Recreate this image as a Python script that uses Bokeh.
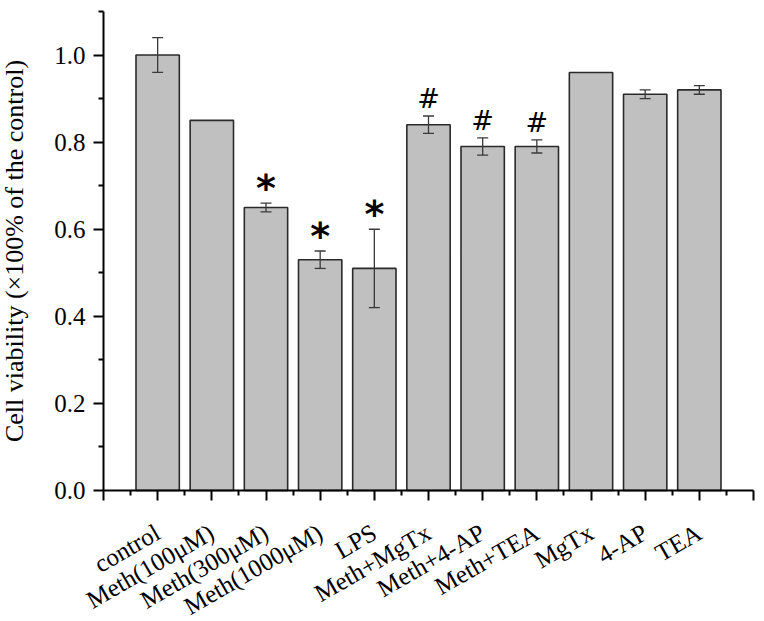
import math
from bokeh.plotting import figure
from bokeh.models import (ColumnDataSource, Range1d, FixedTicker, PrintfTickFormatter,
                          Whisker, TeeHead, LinearAxis)
from bokeh.core.properties import value
from bokeh.embed import file_html
from bokeh.resources import INLINE

categories = ["control", "Meth(100\u03bcM)", "Meth(300\u03bcM)", "Meth(1000\u03bcM)", "LPS",
              "Meth+MgTx", "Meth+4-AP", "Meth+TEA", "MgTx", "4-AP", "TEA"]
viability = [1.00, 0.85, 0.65, 0.53, 0.51, 0.84, 0.79, 0.79, 0.96, 0.91, 0.92]
errors = [0.04, 0.0, 0.01, 0.02, 0.09, 0.02, 0.02, 0.015, 0.0, 0.01, 0.01]
marks = ["", "", "*", "*", "*", "#", "#", "#", "", "", ""]

# layout constants (pixels); the frame fills the whole canvas and the axes
# are pinned at x = 0 and y = 0 so rotated labels are never clipped
W, H = 764, 621
AXIS_X, AXIS_RIGHT = 103, 753     # pixel columns of x = 0 and x = 12
AXIS_Y, AXIS_TOP = 490, 11        # pixel rows of y = 0 and y = 1.1
N_SLOTS = len(categories) + 1
Y_TOP = 1.1
PX_X = (AXIS_RIGHT - AXIS_X) / N_SLOTS
PX_Y = (AXIS_Y - AXIS_TOP) / Y_TOP
X_LO, X_HI = -AXIS_X / PX_X, N_SLOTS + (W - AXIS_RIGHT) / PX_X
Y_LO, Y_HI = -(H - AXIS_Y) / PX_Y, Y_TOP + AXIS_TOP / PX_Y
LABEL_OFFSET_PX = 40

xs = list(range(1, len(categories) + 1))
src = ColumnDataSource(dict(x=xs, top=viability))

p = figure(width=W, height=H, output_backend="svg", toolbar_location=None,
           x_range=Range1d(X_LO, X_HI), y_range=Range1d(Y_LO, Y_HI),
           x_axis_location=None, y_axis_location=None,
           min_border_left=0, min_border_right=0, min_border_top=0, min_border_bottom=0)
p.outline_line_color = None
p.xgrid.visible = False
p.ygrid.visible = False
p.background_fill_color = "white"

p.vbar(x="x", top="top", bottom=0, width=0.8, source=src,
       fill_color="#c0c0c0", line_color="#2a2a2a", line_width=1.6)

has_err = [i for i, e in enumerate(errors) if e > 0]
esrc = ColumnDataSource(dict(
    x=[xs[i] for i in has_err],
    lower=[viability[i] - errors[i] for i in has_err],
    upper=[viability[i] + errors[i] for i in has_err],
))
w = Whisker(base="x", lower="lower", upper="upper", source=esrc, level="annotation",
            line_color="#3a3a3a", line_width=1.3,
            upper_head=TeeHead(size=11, line_color="#3a3a3a", line_width=1.3),
            lower_head=TeeHead(size=11, line_color="#3a3a3a", line_width=1.3))
p.add_layout(w)

star_i = [i for i, m in enumerate(marks) if m == "*"]
hash_i = [i for i, m in enumerate(marks) if m == "#"]
p.text(x=[xs[i] for i in star_i], y=[viability[i] + errors[i] for i in star_i],
       text=[marks[i] for i in star_i], text_font=value("DejaVu Sans"),
       text_font_size="38px", text_font_style="bold", y_offset=7,
       text_align="center", text_baseline="bottom", text_color="black")
p.text(x=[xs[i] for i in hash_i], y=[viability[i] + errors[i] for i in hash_i],
       text=[marks[i] for i in hash_i], text_font=value("DejaVu Sans"),
       text_font_size="27px", y_offset=-2,
       text_align="center", text_baseline="bottom", text_color="black")

# category labels, rotated, below the x axis
p.text(x=xs, y=[0] * len(xs), text=categories, y_offset=LABEL_OFFSET_PX,
       angle=math.pi / 6, text_align="right", text_baseline="middle",
       text_font=value("Liberation Serif"), text_font_size="25px", text_color="black")

# x axis pinned at y = 0
xa = LinearAxis(fixed_location=0)
p.add_layout(xa, "below")
xa.bounds = (0, N_SLOTS)
xa.ticker = FixedTicker(ticks=list(range(0, N_SLOTS + 1)),
                        minor_ticks=[i + 0.5 for i in range(0, N_SLOTS)])
xa.major_label_overrides = {i: "" for i in range(0, N_SLOTS + 1)}
xa.major_label_text_font_size = "1px"
xa.major_label_standoff = 0

# y axis pinned at x = 0
ya = LinearAxis(fixed_location=0)
p.add_layout(ya, "left")
ya.bounds = (0, Y_TOP)
ya.ticker = FixedTicker(ticks=[0.0, 0.2, 0.4, 0.6, 0.8, 1.0],
                        minor_ticks=[0.1, 0.3, 0.5, 0.7, 0.9, 1.1])
ya.formatter = PrintfTickFormatter(format="%.1f")
ya.axis_label = "Cell viability (\u00d7100% of the control)"
ya.axis_label_standoff = 22
ya.major_label_standoff = 8

for ax in (xa, ya):
    ax.axis_line_width = 2
    ax.axis_line_color = "black"
    ax.major_tick_line_width = 2
    ax.minor_tick_line_width = 2
    ax.major_tick_line_color = "black"
    ax.minor_tick_line_color = "black"
    ax.major_tick_out = 10
    ax.major_tick_in = 0
    ax.minor_tick_out = 5
    ax.minor_tick_in = 0
    ax.major_label_text_font = "Liberation Serif"
    ax.major_label_text_color = "black"
    ax.axis_label_text_font = "Liberation Serif"
    ax.axis_label_text_font_style = "normal"
    ax.axis_label_text_color = "black"

ya.major_label_text_font_size = "25px"
ya.axis_label_text_font_size = "26px"

open("out.html", "w").write(file_html(p, INLINE))
